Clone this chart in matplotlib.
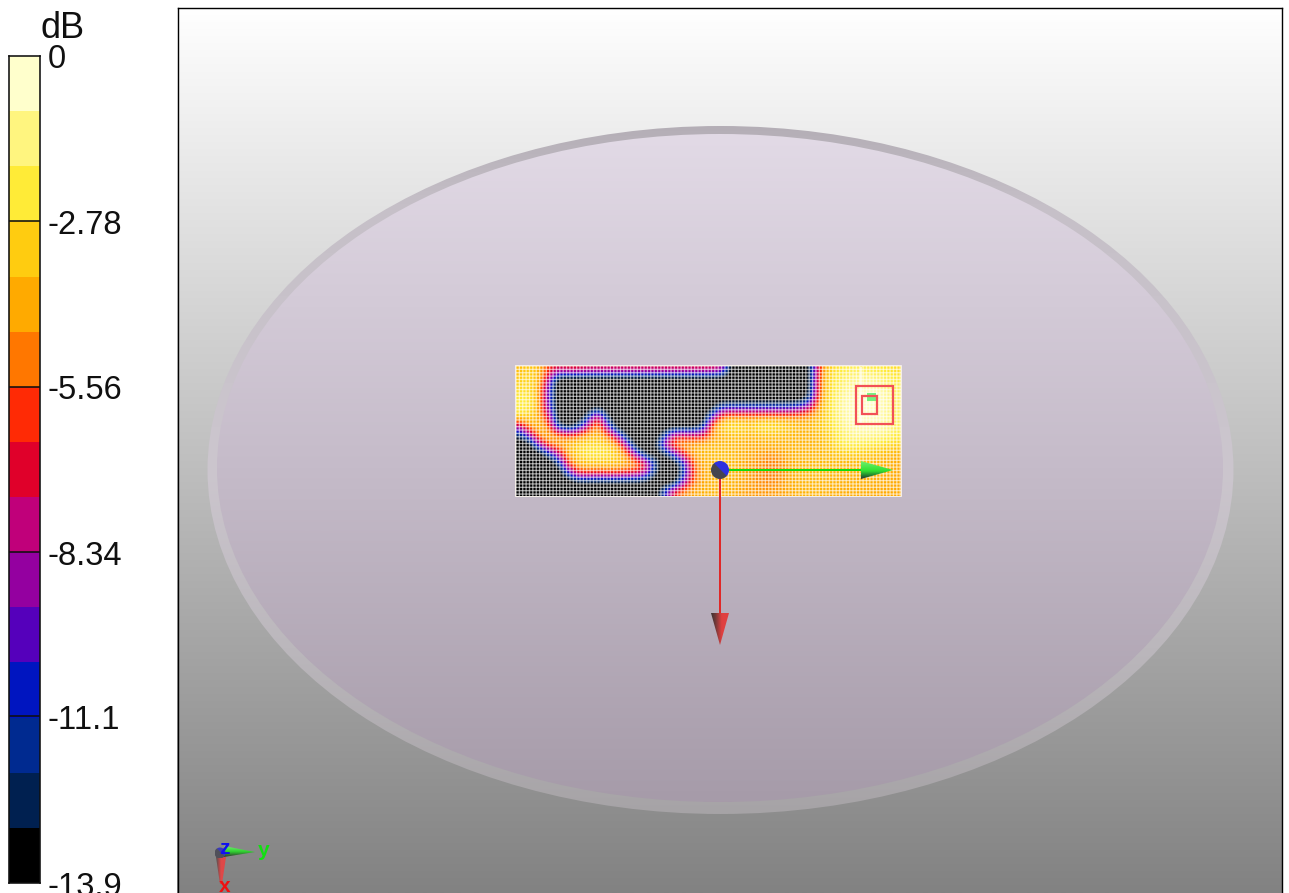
import numpy as np
import matplotlib
matplotlib.use("Agg")
import matplotlib.pyplot as plt
from matplotlib.colors import ListedColormap, BoundaryNorm, LinearSegmentedColormap, Normalize
from matplotlib.patches import Ellipse, Polygon, Rectangle, Circle

plt.rcParams['font.family'] = ['Liberation Sans', 'DejaVu Sans']

# ---- data -------------------------------------------------------------
band_colors = ['#000000', '#002050', '#002A90', '#0015C0', '#5500BB', '#9400A0', '#C0007A',
               '#E0002A', '#FF2A05', '#FF7700', '#FFAA00', '#FFCC10', '#FFEB37', '#FFF57F', '#FFFFCC']
db_min = -13.9
db_ticks = [0, -2.78, -5.56, -8.34, -11.1, -13.9]
db_tick_labels = ['0', '-2.78', '-5.56', '-8.34', '-11.1', '-13.9']
unit_label = 'dB'

r00 = [-3.5,-3,-3.5,-6,-7,-6.5,-6.5,-7,-7,-7,-7,-7,-7,-7,-7,-7,-7,-7,-7,-7,-7,-8,-15,-15,-15,-15,-15,-15,-15,-15,-14,-6,-2.8,-2.2,-1.8,-1.5,-1.8,-2,-2.2,-2.5]
r01 = [-3,-2.5,-3.5,-8,-15,-15,-15,-15,-15,-15,-15,-15,-15,-15,-15,-15,-15,-15,-15,-15,-15,-15,-15,-15,-15,-15,-15,-15,-15,-15,-14,-5.5,-2.5,-1.8,-1.2,-0.8,-0.7,-0.9,-1.5,-2]
r02 = [-2.5,-2.5,-4,-10,-15,-15,-15,-15,-15,-15,-15,-15,-15,-15,-15,-15,-15,-15,-15,-15,-15,-15,-15,-15,-15,-15,-15,-15,-15,-15,-14,-5.5,-2.5,-1.6,-0.8,-0.4,-0.2,-0.3,-0.8,-1.5]
r03 = [-2,-2,-4,-10,-15,-15,-15,-15,-15,-15,-15,-15,-15,-15,-15,-15,-15,-15,-15,-15,-15,-15,-15,-15,-15,-15,-15,-15,-15,-15,-13,-5,-2.5,-1.2,-0.5,-0.2,-0.1,-0.2,-0.6,-1.4]
r04 = [-1.8,-2,-4,-9.5,-15,-15,-15,-15,-14,-15,-15,-15,-15,-15,-15,-15,-15,-15,-15,-15,-14,-11,-11,-11,-11,-11,-11,-11,-11,-10,-8,-4,-2.4,-1,-0.4,-0.2,-0.1,-0.2,-0.6,-1.4]
r05 = [-2.5,-3,-4,-7,-15,-15,-15,-13,-6,-13,-15,-15,-15,-15,-15,-15,-15,-15,-15,-15,-10,-5,-4.5,-4.5,-4.5,-4.5,-4.5,-4.5,-4.5,-4.5,-4.2,-3.5,-2.6,-1.2,-0.5,-0.2,-0.2,-0.3,-0.7,-1.5]
r06 = [-8,-4,-3.5,-5,-13,-15,-13,-8,-3.8,-9,-15,-15,-15,-15,-15,-15,-15,-15,-15,-13,-4,-2.5,-2,-2.5,-3,-2,-2,-2.5,-3,-3.5,-3.5,-3,-2.5,-1.5,-0.7,-0.3,-0.3,-0.3,-0.5,-1.5]
r07 = [-13,-9,-4,-3.5,-4.5,-5.5,-5,-4,-3.5,-5,-8,-14,-15,-15,-15,-12,-7,-7,-7,-7,-4.5,-4,-3.5,-3.5,-3.8,-3.5,-3.5,-3.5,-3.6,-3.8,-3.8,-3.5,-3,-2,-1.2,-0.8,-0.8,-1,-1.2,-2]
r08 = [-15,-15,-9,-5,-4,-3.5,-2.8,-2.5,-2.5,-2.8,-4,-8,-15,-15,-14,-8,-4.5,-4,-4,-3.5,-3.5,-3.5,-3.5,-3.7,-4,-3.8,-3.8,-3.8,-3.7,-3.7,-3.7,-3.6,-3.2,-2.2,-1.6,-1.8,-2,-2.2,-2.5,-2.8]
r09 = [-15,-15,-15,-12,-8,-4,-2.8,-2,-2,-2.2,-2.8,-4.5,-9,-14,-15,-14,-10,-6,-4,-3.5,-3.5,-3.4,-3.5,-3.8,-4,-4.3,-4.5,-4.2,-3.8,-3.6,-3.6,-3.6,-3.5,-3.2,-3,-3,-3.2,-3.4,-3.6,-3.8]
r10 = [-15,-15,-15,-15,-13,-5.5,-3.8,-3.2,-3.2,-3.2,-3.3,-3.7,-4.2,-6,-12,-15,-15,-11,-5,-4,-3.6,-3.3,-3.5,-4,-4.3,-4.5,-5,-4.6,-4,-3.7,-3.6,-3.5,-3.5,-3.6,-3.6,-3.6,-3.6,-3.7,-3.8,-4]
r11 = [-15,-15,-15,-15,-15,-11,-6,-5.5,-6,-5.5,-5.5,-6,-6.5,-8,-13,-15,-15,-12,-5.5,-4,-3.6,-3.5,-3.6,-4,-4.4,-4.8,-5,-4.7,-4,-3.7,-3.6,-3.5,-3.6,-3.7,-3.8,-3.8,-3.8,-3.8,-3.9,-4]
r12 = [-15,-15,-15,-15,-15,-15,-14,-14,-14,-14,-14,-14,-14,-14,-15,-15,-15,-9,-5,-4,-3.8,-3.6,-3.7,-4,-4.3,-4.6,-4.8,-4.4,-3.9,-3.7,-3.6,-3.6,-3.7,-3.8,-3.8,-3.8,-3.8,-3.9,-3.9,-4]
r13 = [-15,-15,-15,-15,-15,-15,-15,-15,-15,-15,-15,-15,-15,-15,-15,-11,-6,-4.5,-4,-3.8,-3.7,-3.7,-3.8,-4.2,-4.3,-4.4,-4.3,-4.2,-4,-3.8,-3.7,-3.7,-3.8,-3.9,-3.9,-3.9,-3.9,-4,-4,-4]
field_rows = [r00, r01, r02, r03, r04, r05, r06, r07, r08, r09, r10, r11, r12, r13]

# ---- scene layout, in screen pixels ----------------------------------
W, H = 1289, 893
fig = plt.figure(figsize=(W / 100, H / 100), dpi=100, facecolor='white')
px = 0.72  # one pixel in points
scene = fig.add_axes([0, 0, 1, 1])
scene.set_axis_off()


def gradient(ax, extent, stops, clip=None, zorder=1, horizontal=False):
    """Linear gradient image; stops are (fraction, colour)."""
    cmap = LinearSegmentedColormap.from_list('g', stops, N=512)
    ramp = np.linspace(0, 1, 512)
    arr = ramp[None, :] if horizontal else ramp[:, None]
    im = ax.imshow(arr, extent=extent, cmap=cmap, vmin=0, vmax=1, aspect='auto', zorder=zorder,
                   interpolation='bilinear', origin='upper')
    if clip is not None:
        clip.set_transform(ax.transData)
        im.set_clip_path(clip)
    return im


# viewport with background gradient
gradient(scene, (177, 1282, 893, 7), [(0, '#FFFFFF'), (1, '#828282')], zorder=1)

# plate: rim and face
rim_top, rim_bot = 126, 814
rim = Ellipse((720.5, 470), 1026, rim_bot - rim_top, fc='none', ec='none')
scene.add_patch(rim)
gradient(scene, (200, 1240, rim_bot, rim_top),
         [(0, '#B4AEB6'), (0.12, '#C6C0C8'), (0.5, '#CCC6CE'), (0.76, '#BBB7BC'), (1, '#A6A3A6')],
         clip=rim, zorder=2)
face_top, face_bot = 134, 802
face = Ellipse((720, 468), 1006, face_bot - face_top, fc='none', ec='none')
scene.add_patch(face)
gradient(scene, (205, 1235, face_bot, face_top),
         [(0, '#E2DAE6'), (0.5, '#C5BBC9'), (1, '#A69BA9')], clip=face, zorder=3)

# measured field
map_left, map_right, map_top, map_bottom = 515, 901, 365, 496
field = np.array(field_rows, dtype=float)
smooth = LinearSegmentedColormap.from_list('bands', band_colors, N=256)
scene.imshow(field, extent=(map_left, map_right, map_bottom, map_top), cmap=smooth,
             norm=Normalize(db_min, 0), interpolation='bicubic', interpolation_stage='data',
             aspect='auto', zorder=4, origin='upper')

# measurement mesh
pitch = 3.37
xs = np.arange(map_left + 1, map_right, pitch)
ys = np.arange(map_top + 1, map_bottom, pitch)
mesh_v = scene.vlines(xs, map_top, map_bottom, colors='white', linewidth=1.3 * px, alpha=0.6, zorder=5)
mesh_h = scene.hlines(ys, map_left, map_right, colors='white', linewidth=1.3 * px, alpha=0.6, zorder=5)
mesh_v.set_snap(False)
mesh_h.set_snap(False)
scene.add_patch(Rectangle((map_left, map_top), map_right - map_left, map_bottom - map_top,
                          fc='none', ec='#F4EEE8', lw=px, zorder=6))

# peak markers
scene.vlines([861], 367, 424, colors='white', linewidth=1.5 * px, alpha=0.85, zorder=6)
scene.add_patch(Rectangle((867, 393), 9, 8, fc='#78F080', ec='none', zorder=7))
scene.add_patch(Rectangle((855.5, 386), 37.5, 38, fc='none', ec='#F25058', lw=2.2 * px, zorder=8))
scene.add_patch(Rectangle((862, 396), 15, 18, fc='none', ec='#F25058', lw=2.2 * px, zorder=8))


def cone(ax, pts, stops, extent, zorder=10, horizontal=False):
    poly = Polygon(pts, closed=True, fc='none', ec='none')
    ax.add_patch(poly)
    gradient(ax, extent, stops, clip=poly, zorder=zorder, horizontal=horizontal)


def sphere(ax, cx, cy, r, dark, light, zorder=11):
    t = np.linspace(0, 1, 32)
    diag = ((t[None, :] + (1 - t[:, None])) / 2 > 0.52).astype(float)
    cmap = LinearSegmentedColormap.from_list('s', [dark, light])
    im = ax.imshow(diag, extent=(cx - r, cx + r, cy - r, cy + r), cmap=cmap, vmin=0, vmax=1,
                   aspect='auto', origin='lower', zorder=zorder, interpolation='bilinear')
    c = Circle((cx, cy), r, fc='none', ec='none', transform=ax.transData)
    ax.add_patch(c)
    im.set_clip_path(c)


# main axes triad
scene.plot([720, 862], [470, 470], color='#10DC10', lw=2 * px, zorder=9, solid_capstyle='butt')
scene.plot([720, 720], [470, 614], color='#E02828', lw=2 * px, zorder=9, solid_capstyle='butt')
cone(scene, [(861, 461), (861, 479), (893, 470)],
     [(0, '#70F070'), (0.55, '#30E030'), (0.85, '#206A30'), (1, '#303030')], (861, 893, 479, 461))
cone(scene, [(711, 613), (729, 613), (720, 645)],
     [(0, '#3A3232'), (0.25, '#703838'), (0.6, '#E04040'), (1, '#E04040')], (711, 729, 645, 613),
     horizontal=True)
sphere(scene, 720, 470, 9, '#45454F', '#2C30E0')

# corner triad
cone(scene, [(216, 857), (226, 857), (222, 884), (220, 884)],
     [(0, '#505050'), (0.5, '#E04848'), (1, '#E04848')], (216, 226, 884, 857), horizontal=True)
cone(scene, [(224, 846), (224, 857), (255, 852)],
     [(0, '#70F070'), (0.5, '#30D030'), (1, '#303030')], (224, 255, 857, 846))
sphere(scene, 220, 853, 5.5, '#50505A', '#3838C0')
scene.text(224.5, 849, 'z', color='#1010F0', fontsize=15, weight='bold', ha='center', va='center', zorder=12)
scene.text(263.5, 851, 'y', color='#10E010', fontsize=15, weight='bold', ha='center', va='center', zorder=12)
scene.text(225, 886, 'x', color='#F01010', fontsize=15, weight='bold', ha='center', va='center', zorder=12)

# viewport frame
scene.plot([177.5, 177.5], [H, 7.5], color='black', lw=1.4 * px, zorder=20)
scene.plot([177.5, 1281.8], [7.5, 7.5], color='black', lw=1.4 * px, zorder=20)
scene.plot([1281.8, 1281.8], [7.5, H], color='black', lw=1.4 * px, zorder=20)
scene.set_xlim(0, W)
scene.set_ylim(H, 0)

# colour bar
bar_l, bar_r, bar_t, bar_b = 9, 39.5, 56, 883
cax = fig.add_axes([bar_l / W, 1 - bar_b / H, (bar_r - bar_l) / W, (bar_b - bar_t) / H])
edges = np.linspace(db_min, 0, len(band_colors) + 1)
cax.pcolormesh([0, 1], edges, np.arange(len(band_colors))[:, None],
               cmap=ListedColormap(band_colors),
               norm=BoundaryNorm(np.arange(len(band_colors) + 1) - 0.5, len(band_colors)))
cax.set_xlim(0, 1)
cax.set_ylim(db_min, 0)
cax.set_xticks([])
cax.yaxis.tick_right()
cax.set_yticks(db_ticks)
cax.set_yticklabels([])
cax.tick_params(axis='y', length=0)
for s in cax.spines.values():
    s.set_linewidth(1.6 * px)
    s.set_color('#101010')
for v in db_ticks[1:-1]:
    cax.axhline(v, color='#101010', lw=1.6 * px)
for v, lab in zip(db_ticks, db_tick_labels):
    y_px = bar_t + (bar_b - bar_t) * (v / db_min)
    fig.text(47.5 / W, 1 - (y_px + 4) / H, lab, fontsize=23.5, color='#101010', ha='left', va='center')
fig.text(63 / W, 1 - 28 / H, unit_label, fontsize=26, color='#101010', ha='center', va='center')

fig.savefig('out.png', dpi=100, facecolor='white')
